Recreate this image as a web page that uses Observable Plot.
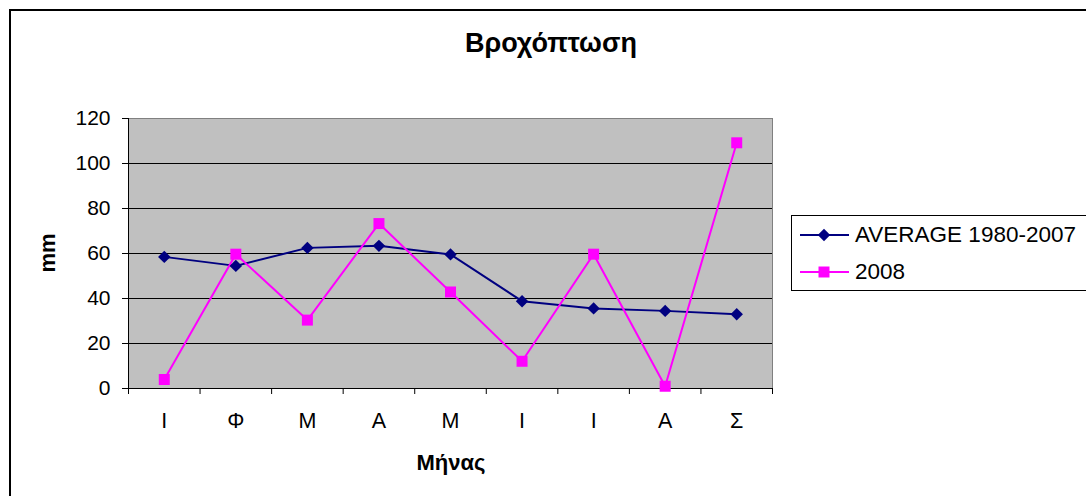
<!DOCTYPE html>
<html>
<head>
<meta charset="utf-8">
<script src="https://cdn.jsdelivr.net/npm/d3@7"></script>
<script src="https://cdn.jsdelivr.net/npm/@observablehq/plot@0.6"></script>
<style>
  html, body { margin: 0; padding: 0; background: #fff; overflow: hidden; }
  #wrap { position: relative; width: 1086px; height: 496px; overflow: hidden; font-family: Arial, "Liberation Sans", sans-serif; color: #000; }
  #border { position: absolute; left: 9px; top: 9px; width: 1200px; height: 600px; border: 2px solid #000; box-sizing: border-box; }
  #chart { position: absolute; left: 0; top: 0; }
  .title { position: absolute; left: 0; width: 1102px; top: 28px; text-align: center; font-weight: bold; font-size: 27px; }
  .ylab { position: absolute; left: 48px; top: 253px; transform: translate(-50%, -50%) rotate(-90deg); font-weight: bold; font-size: 22px; white-space: nowrap; }
  .xlab { position: absolute; left: 351px; width: 200px; top: 450px; text-align: center; font-weight: bold; font-size: 22px; }
  #legend { position: absolute; left: 791px; top: 215px; width: 340px; height: 76px; border: 1px solid #000; box-sizing: border-box; background: #fff; }
  .row { position: absolute; left: 8px; height: 30px; display: flex; align-items: center; font-size: 22.5px; white-space: nowrap; }
  .row svg { margin-right: 5px; }
</style>
</head>
<body>
<div id="wrap">
  <div id="border"></div>
  <div id="chart"></div>
  <div class="title" id="title"></div>
  <div class="ylab" id="ylab"></div>
  <div class="xlab" id="xlab"></div>
  <div id="legend"></div>
</div>
<script>
const titleText = "Βροχόπτωση";
const yLabel = "mm";
const xLabel = "Μήνας";
const months = ["Ι", "Φ", "Μ", "Α", "Μ", "Ι", "Ι", "Α", "Σ"];
const seriesNames = ["AVERAGE 1980-2007", "2008"];
const average = [58.5, 54.5, 62.5, 63.4, 59.6, 38.8, 35.6, 34.5, 33.0];
const rain2008 = [4.0, 59.7, 30.4, 73.3, 42.9, 12.1, 59.7, 1.0, 109.2];
const yTicks = [0, 20, 40, 60, 80, 100, 120];

const colors = ["#000080", "#FF00FF"];
const symbols = ["diamond2", "square"];
const radii = [5.6, 6.2];

const data = [];
months.forEach((m, i) => {
  data.push({i, x: i + 0.5, month: m, value: average[i], series: seriesNames[0]});
});
months.forEach((m, i) => {
  data.push({i, x: i + 0.5, month: m, value: rain2008[i], series: seriesNames[1]});
});

const chart = Plot.plot({
  width: 1086,
  height: 496,
  marginLeft: 128,
  marginRight: 314,
  marginTop: 118,
  marginBottom: 108,
  style: {fontFamily: 'Arial, "Liberation Sans", sans-serif', fontSize: "21px", color: "#000", background: "transparent", overflow: "visible"},
  x: {type: "linear", domain: [0, months.length]},
  y: {type: "linear", domain: [0, 120]},
  marks: [
    Plot.frame({fill: "#C0C0C0", stroke: "#808080"}),
    Plot.gridY(yTicks.filter(t => t > 0 && t < 120), {stroke: "#000", strokeOpacity: 1}),
    Plot.ruleX([0], {stroke: "#000"}),
    Plot.ruleY([0], {stroke: "#000"}),
    Plot.axisY({ticks: yTicks, tickSize: 6, tickPadding: 12, fontSize: 21, label: null, stroke: "#000"}),
    Plot.axisX({ticks: d3.range(months.length + 1), tickSize: 6, tickFormat: () => "", label: null, stroke: "#000"}),
    Plot.axisX({ticks: months.map((m, i) => i + 0.5), tickSize: 0, tickPadding: 24, tickFormat: (d) => months[Math.floor(d)], fontSize: 21.5, label: null}),
    Plot.line(data.filter(d => d.series === seriesNames[0]), {x: "x", y: "value", stroke: colors[0], strokeWidth: 2}),
    Plot.line(data.filter(d => d.series === seriesNames[1]), {x: "x", y: "value", stroke: colors[1], strokeWidth: 2}),
    Plot.dot(data.filter(d => d.series === seriesNames[0]), {x: "x", y: "value", symbol: symbols[0], r: radii[0], fill: colors[0], stroke: "none"}),
    Plot.dot(data.filter(d => d.series === seriesNames[1]), {x: "x", y: "value", symbol: symbols[1], r: radii[1], fill: colors[1], stroke: "none"})
  ]
});
document.getElementById("chart").appendChild(chart);

document.getElementById("title").textContent = titleText;
document.getElementById("ylab").textContent = yLabel;
document.getElementById("xlab").textContent = xLabel;

const legend = document.getElementById("legend");
seriesNames.forEach((name, k) => {
  const row = document.createElement("div");
  row.className = "row";
  row.style.top = (k === 0 ? 4 : 41) + "px";
  const ns = "http://www.w3.org/2000/svg";
  const svg = document.createElementNS(ns, "svg");
  svg.setAttribute("width", 50);
  svg.setAttribute("height", 20);
  const line = document.createElementNS(ns, "line");
  line.setAttribute("x1", 0); line.setAttribute("x2", 49);
  line.setAttribute("y1", 10); line.setAttribute("y2", 10);
  line.setAttribute("stroke", colors[k]); line.setAttribute("stroke-width", 2);
  svg.appendChild(line);
  const sym = document.createElementNS(ns, "path");
  const sz = Math.PI * radii[k] * radii[k];
  const d3sym = k === 0 ? d3.symbolDiamond2 : d3.symbolSquare;
  sym.setAttribute("d", d3.symbol(d3sym, sz)());
  sym.setAttribute("transform", "translate(24,10)");
  sym.setAttribute("fill", colors[k]);
  svg.appendChild(sym);
  row.appendChild(svg);
  const t = document.createElement("span");
  t.textContent = name;
  row.appendChild(t);
  legend.appendChild(row);
});
</script>
</body>
</html>
